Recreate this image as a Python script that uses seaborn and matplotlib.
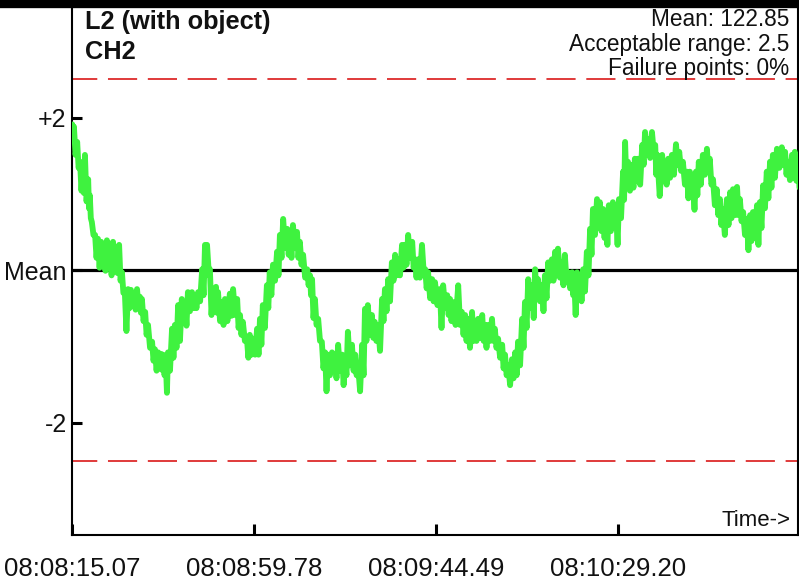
import matplotlib
matplotlib.use("Agg")
import matplotlib.pyplot as plt
import seaborn as sns
import pandas as pd
from matplotlib.lines import Line2D

# ---- data (seconds since 08:08:15.07, deviation from mean) ----
sample_t = [
    0.0, 0.4, 1.2, 1.9, 2.6, 3.1, 3.9, 4.3, 4.8, 5.6, 6.3, 7.1, 7.8, 8.5, 9.3, 10.0,
    10.7, 11.5, 12.2, 12.9, 13.7, 14.4, 15.2, 15.9, 16.6, 17.1, 17.9, 18.6, 19.6, 20.3,
    21.1, 21.8, 22.3, 23.0, 23.5, 24.5, 25.2, 26.0, 26.9, 27.7, 28.4, 29.4, 30.1, 30.9,
    31.9, 32.6, 33.1, 33.8, 34.6, 35.3, 35.8,
    36.8, 37.5, 38.7, 39.5, 40.5, 41.2, 41.9, 42.9, 43.6, 44.4, 45.4, 46.1, 46.8, 47.8,
    48.5, 49.3, 50.3, 51.0, 51.8, 52.8, 53.5, 54.2, 55.2, 55.9, 56.7, 57.7, 58.4, 58.9,
    59.6, 60.4, 61.3, 62.1, 62.8, 63.8, 64.5, 65.3, 66.3, 67.0, 67.7, 68.7, 69.5, 70.2,
    71.2,
    71.9, 72.6, 73.6, 74.3, 75.1, 76.1, 76.8, 77.6, 78.5, 79.3, 80.0, 81.0, 81.7, 82.5,
    83.5, 84.2, 84.9, 85.9, 86.7, 87.4, 88.4, 89.1, 90.3, 91.1, 92.1, 92.8, 93.5, 94.8,
    95.7, 96.5, 97.2, 98.2, 98.9, 99.7, 100.7, 101.4, 102.1, 103.1, 103.8, 104.6, 105.6,
    106.3, 107.1,
    108.0, 108.8, 109.5, 110.5, 111.2, 112.0, 113.0, 113.7, 114.4, 115.4, 116.1, 116.9,
    117.8, 118.6, 119.3, 120.3, 121.0, 121.8, 122.8, 123.3, 124.0, 124.7, 125.5, 126.4,
    127.2, 127.9, 128.9, 129.6, 130.4, 131.1, 131.8, 132.8, 133.6, 134.3, 135.3, 135.8,
    136.5, 137.5, 138.2, 139.0, 140.0, 140.7, 141.5, 142.4,
    143.2, 143.7, 144.9, 145.6, 146.4, 147.3, 148.3, 149.1, 150.0, 151.0, 151.7, 152.5,
    153.2, 153.9, 154.9, 155.9, 156.6, 157.4, 158.3, 159.1, 159.8, 160.8, 161.6, 162.3,
    163.3, 164.0, 164.8, 165.7, 166.5, 167.2, 168.2, 168.9, 169.7, 170.6, 171.4, 172.1,
    173.1, 174.3, 175.1, 175.8, 176.8, 177.5, 178.3,
]
upper = [
    1.91, 1.88, 1.68, 1.42, 1.35, 1.51, 1.19, 0.98, 0.63, 0.46, 0.41, 0.37, 0.30, 0.39, 0.34, 0.37,
    0.30, 0.33, -0.03, -0.29, -0.25, -0.26, -0.31, -0.25, -0.35, -0.38, -0.55, -0.72, -0.94, -1.04,
    -1.08, -1.10, -1.11, -1.25, -1.08, -0.77, -0.72, -0.46, -0.38, -0.42, -0.29, -0.29, -0.35, -0.29,
    0.01, 0.33, 0.33, 0.01, -0.25, -0.22, -0.29,
    -0.42, -0.38, -0.31, -0.25, -0.38, -0.59, -0.68, -0.90, -0.85, -0.90, -0.77, -0.64, -0.46, -0.20,
    -0.03, 0.07, 0.24, 0.46, 0.67, 0.54, 0.41, 0.59, 0.50, 0.37, 0.20, 0.01, -0.07, -0.12,
    -0.38, -0.64, -0.94, -1.08, -1.11, -1.08, -1.11, -0.98, -1.11, -1.17, -0.81, -0.98, -1.11, -1.25,
    -0.98,
    -0.51, -0.46, -0.59, -0.68, -0.72, -0.38, -0.25, -0.12, 0.10, 0.20, 0.14, 0.33, 0.33, 0.46,
    0.37, 0.14, 0.14, 0.33, 0.01, -0.03, -0.12, -0.16, -0.25, -0.20, -0.33, -0.38, -0.42, -0.20,
    -0.55, -0.59, -0.64, -0.55, -0.68, -0.64, -0.59, -0.72, -0.72, -0.64, -0.77, -0.90, -0.98,
    -1.11, -1.25,
    -1.17, -1.08, -0.94, -0.64, -0.42, -0.12, -0.20, 0.01, -0.12, -0.20, -0.07, 0.10,
    0.14, 0.24, 0.28, 0.10, 0.20, -0.03, -0.03, -0.12, -0.03, -0.07, 0.01, 0.24,
    0.54, 0.80, 0.93, 0.89, 0.80, 0.76, 0.85, 0.89, 0.76, 0.93, 1.29, 1.68,
    1.42, 1.38, 1.46, 1.46, 1.64, 1.81, 1.72, 1.81,
    1.64, 1.51, 1.51, 1.42, 1.46, 1.51, 1.65, 1.55, 1.42, 1.29, 1.29, 1.11,
    1.29, 1.42, 1.51, 1.59, 1.46, 1.19, 1.06, 0.93, 0.80, 0.93, 1.02, 1.06,
    1.09, 0.93, 0.76, 0.67, 0.72, 0.76, 0.85, 0.89, 1.11, 1.29, 1.42, 1.51,
    1.59, 1.61, 1.55, 1.42, 1.51, 1.55, 1.46,
]
lower = [
    1.73, 1.51, 1.34, 1.04, 1.01, 0.90, 0.81, 0.68, 0.46, 0.16, 0.03, 0.09, -0.01, 0.05, -0.07, 0.03,
    -0.04, -0.14, -0.30, -0.80, -0.50, -0.43, -0.52, -0.47, -0.56, -0.67, -0.85, -1.02, -1.19, -1.32,
    -1.29, -1.31, -1.38, -1.61, -1.32, -1.15, -1.02, -0.93, -0.67, -0.73, -0.54, -0.50, -0.50, -0.41,
    -0.33, -0.07, 0.03, -0.59, -0.50, -0.56, -0.67,
    -0.72, -0.67, -0.60, -0.59, -0.76, -0.85, -0.93, -1.15, -1.11, -1.11, -1.11, -0.98, -0.76, -0.50,
    -0.33, -0.14, -0.07, 0.16, 0.29, 0.20, 0.16, 0.29, 0.16, 0.07, -0.10, -0.20, -0.33, -0.63,
    -0.72, -0.93, -1.29, -1.59, -1.38, -1.32, -1.42, -1.32, -1.51, -1.38, -1.25, -1.32, -1.38, -1.59,
    -1.38,
    -0.93, -0.85, -0.89, -0.93, -1.06, -0.67, -0.54, -0.41, -0.14, -0.07, -0.07, 0.03, 0.07, 0.16,
    0.03, -0.10, -0.10, -0.01, -0.24, -0.37, -0.41, -0.46, -0.76, -0.50, -0.59, -0.67, -0.72, -0.72,
    -0.85, -0.93, -1.02, -0.93, -0.93, -0.89, -0.93, -1.02, -0.93, -0.93, -1.02, -1.15, -1.29,
    -1.38, -1.51,
    -1.42, -1.38, -1.25, -1.02, -0.76, -0.50, -0.63, -0.33, -0.41, -0.54, -0.37, -0.14,
    -0.14, -0.07, -0.10, -0.20, -0.14, -0.24, -0.33, -0.59, -0.37, -0.41, -0.28, -0.07,
    0.20, 0.46, 0.59, 0.51, 0.42, 0.33, 0.51, 0.59, 0.33, 0.68, 0.92, 1.08,
    1.04, 1.08, 1.17, 1.12, 1.38, 1.51, 1.47, 1.57,
    1.25, 0.97, 1.17, 1.12, 1.21, 1.25, 1.38, 1.30, 1.12, 0.94, 0.98, 0.79,
    0.98, 1.12, 1.25, 1.30, 1.12, 0.85, 0.72, 0.59, 0.46, 0.59, 0.68, 0.72,
    0.72, 0.64, 0.46, 0.26, 0.38, 0.42, 0.33, 0.55, 0.81, 0.94, 1.08, 1.21,
    1.34, 1.38, 1.25, 1.18, 1.21, 1.17, 1.08,
]

mean_value = 122.85
acceptable_range = 2.5
failure_pct = 0
x_tick_seconds = [0.0, 44.71, 89.42, 134.13]
x_tick_labels = ["08:08:15.07", "08:08:59.78", "08:09:44.49", "08:10:29.20"]
y_ticks = [2, 0, -2]
y_tick_labels = ["+2", "Mean", "-2"]
x_span = 178.2
title_lines = ["L2 (with object)", "CH2"]

# ---- build zig-zag series (upper/lower noise envelope) ----
t_long, v_long = [], []
n = len(sample_t)
for i in range(n):
    nxt = sample_t[i + 1] if i < n - 1 else sample_t[i] + 0.7
    t_long.append(sample_t[i]); v_long.append(upper[i])
    t_long.append((sample_t[i] + nxt) / 2); v_long.append(lower[i])
df = pd.DataFrame({"t": t_long, "dev": v_long})

sns.set_style("white")
plt.rcParams["font.family"] = ["Liberation Sans", "DejaVu Sans"]

W, H = 799, 586
fig = plt.figure(figsize=(W / 100, H / 100), dpi=100)
ax = fig.add_axes([72.3 / W, 51 / H, 725.4 / W, 531 / H])

ax.axhline(0, color="black", lw=2.3, zorder=1)
for lvl in (acceptable_range, -acceptable_range):
    ax.axhline(lvl, color="#e03a3a", lw=1.4, linestyle=(2, (15, 5.5)), zorder=1)

sns.lineplot(data=df, x="t", y="dev", estimator=None, sort=False,
             color="#3ff23f", lw=4.2, ax=ax, zorder=3)

ax.set_xlim(0, x_span)
ax.set_ylim(-3.475, 3.489)
ax.set_xticks(x_tick_seconds)
ax.set_xticklabels(x_tick_labels)
ax.set_yticks(y_ticks)
ax.set_yticklabels(y_tick_labels)
ax.set_xlabel("")
ax.set_ylabel("")
ax.tick_params(axis="x", bottom=True, top=False, direction="in", length=8, width=2.2,
               pad=16, labelsize=18.5, colors="black")
ax.tick_params(axis="y", left=True, right=False, direction="in", length=7, width=2.2,
               pad=4, labelsize=18, colors="black")
for lab in ax.get_xticklabels() + ax.get_yticklabels():
    lab.set_color("#111111")

for side in ("left", "bottom", "right"):
    ax.spines[side].set_visible(True)
    ax.spines[side].set_color("black")
    ax.spines[side].set_linewidth(1.5)
ax.spines["top"].set_visible(False)

# thick bar across the top of the figure
fig.add_artist(Line2D([0, 1], [1 - 4 / H, 1 - 4 / H], transform=fig.transFigure,
                      color="black", lw=6))

ax.text(0.0175, 0.966, title_lines[0], transform=ax.transAxes, ha="left", va="center",
        fontsize=18.3, fontweight="bold", color="#111111")
ax.text(0.0175, 0.910, title_lines[1], transform=ax.transAxes, ha="left", va="center",
        fontsize=18.3, fontweight="bold", color="#111111")

ax.text(0.988, 0.970, f"Mean: {mean_value:.2f}", transform=ax.transAxes, ha="right",
        va="center", fontsize=16.3, color="#111111")
ax.text(0.988, 0.923, f"Acceptable range: {acceptable_range}", transform=ax.transAxes,
        ha="right", va="center", fontsize=16.3, color="#111111")
ax.text(0.988, 0.878, f"Failure points: {failure_pct}%", transform=ax.transAxes,
        ha="right", va="center", fontsize=16.3, color="#111111")

ax.text(0.99, 0.028, "Time->", transform=ax.transAxes, ha="right", va="center",
        fontsize=16, color="#111111")

fig.savefig("out.png", dpi=100)
